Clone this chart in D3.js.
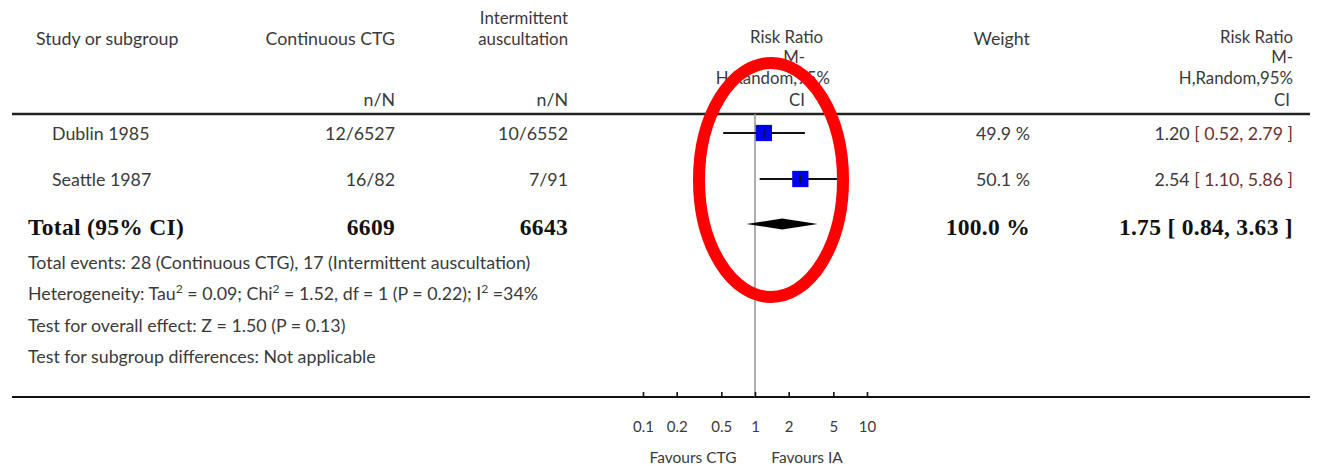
<!DOCTYPE html>
<html>
<head>
<meta charset="utf-8">
<script src="https://cdn.jsdelivr.net/npm/d3@7"></script>
<style>
  html, body { margin: 0; padding: 0; background: #fff; }
  svg { display: block; }
  .t { font-family: Lato, "Open Sans", sans-serif; font-size: 17.8px; fill: #3a3a3a; }
  .h { font-size: 16.8px; }
  .b { font-family: "Liberation Serif", "Times New Roman", serif; font-size: 23.5px; font-weight: bold; fill: #111; letter-spacing: 0.3px; }
</style>
</head>
<body>
<svg id="plot" width="1324" height="465"></svg>
<script>
// Study rows
const studies    = ["Dublin 1985", "Seattle 1987"];
const ctgCounts  = ["12/6527", "16/82"];
const iaCounts   = ["10/6552", "7/91"];
const rr         = [1.20, 2.54];
const rrLow      = [0.52, 1.10];
const rrHigh     = [2.79, 5.86];
const weights    = [49.9, 50.1];

// Pooled estimate
const totalLabel = "Total (95% CI)";
const totalCtg   = 6609;
const totalIa    = 6643;
const pooled     = { rr: 1.75, low: 0.84, high: 3.63, weight: 100.0 };

// Footnotes
const footLines = [
  "Total events: 28 (Continuous CTG), 17 (Intermittent auscultation)",
  "HET",
  "Test for overall effect: Z = 1.50 (P = 0.13)",
  "Test for subgroup differences: Not applicable"
];

// Axis
const tickValues = [0.1, 0.2, 0.5, 1, 2, 5, 10];
const tickLabels = ["0.1", "0.2", "0.5", "1", "2", "5", "10"];
const favours    = ["Favours CTG", "Favours IA"];

const svg = d3.select("#plot");
const x = d3.scaleLog().domain([0.1, 10]).range([643, 867]);
const size = d3.scaleSqrt().domain([0, 100]).range([0, 23]);
const rowY = [133, 179];
const totalY = 224;

const fmt2 = d3.format(".2f");
const fmtW = d3.format(".1f");

// Column positions
const colName = 52, colCtg = 395, colIa = 568, colW = 1030, colRR = 1293;

function txt(xp, yp, s, anchor, cls) {
  return svg.append("text").attr("class", cls || "t")
    .attr("x", xp).attr("y", yp).attr("text-anchor", anchor || "start").text(s);
}

// Header
txt(36, 45, "Study or subgroup");
txt(colCtg, 45, "Continuous CTG", "end");
txt(colIa, 24, "Intermittent", "end", "t h");
txt(colIa, 45, "auscultation", "end", "t h");
txt(colCtg, 106, "n/N", "end");
txt(colIa, 106, "n/N", "end");
txt(823, 43, "Risk Ratio", "end", "t h");
txt(805, 63, "M-", "end", "t h");
txt(830, 84, "H,Random,95%", "end", "t h");
txt(805, 106, "CI", "end", "t h");
txt(colW, 45, "Weight", "end");
txt(colRR, 43, "Risk Ratio", "end", "t h");
txt(colRR, 63, "M-", "end", "t h");
txt(colRR, 84, "H,Random,95%", "end", "t h");
txt(colRR - 3, 106, "CI", "end", "t h");

// Rules
svg.append("line").attr("x1", 12).attr("x2", 1310).attr("y1", 114).attr("y2", 114)
  .attr("stroke", "#222").attr("stroke-width", 2.5);
svg.append("line").attr("x1", 12).attr("x2", 1310).attr("y1", 397).attr("y2", 397)
  .attr("stroke", "#111").attr("stroke-width", 2);

// Line of no effect
svg.append("line").attr("x1", x(1)).attr("x2", x(1)).attr("y1", 114).attr("y2", 397)
  .attr("stroke", "#9a9a9a").attr("stroke-width", 1.6);

// Study rows
studies.forEach((s, i) => {
  const y = rowY[i];
  txt(colName, y + 7, s);
  txt(colCtg, y + 7, ctgCounts[i], "end");
  txt(colIa, y + 7, iaCounts[i], "end");
  txt(colW, y + 7, fmtW(weights[i]) + " %", "end");
  const g = svg.append("text").attr("class", "t").attr("x", colRR).attr("y", y + 7).attr("text-anchor", "end");
  g.append("tspan").text(fmt2(rr[i]) + " ");
  g.append("tspan").attr("fill", "#6b3030").text("[ " + fmt2(rrLow[i]) + ", " + fmt2(rrHigh[i]) + " ]");

  svg.append("line").attr("x1", x(rrLow[i])).attr("x2", x(rrHigh[i]))
    .attr("y1", y).attr("y2", y).attr("stroke", "#111").attr("stroke-width", 2);
  const s2 = size(weights[i]);
  svg.append("rect").attr("x", x(rr[i]) - s2 / 2).attr("y", y - s2 / 2)
    .attr("width", s2).attr("height", s2).attr("fill", "#0000ee");
  svg.append("line").attr("x1", x(rr[i])).attr("x2", x(rr[i]))
    .attr("y1", y - 4).attr("y2", y + 4).attr("stroke", "#111").attr("stroke-width", 1.5);
});

// Total row
txt(28, totalY + 11, totalLabel, "start", "b");
txt(colCtg, totalY + 11, totalCtg, "end", "b");
txt(colIa, totalY + 11, totalIa, "end", "b");
txt(colW, totalY + 11, fmtW(pooled.weight) + " %", "end", "b");
txt(colRR, totalY + 11, fmt2(pooled.rr) + " [ " + fmt2(pooled.low) + ", " + fmt2(pooled.high) + " ]", "end", "b");

svg.append("path")
  .attr("d", d3.line()([
    [x(pooled.low), totalY], [x(pooled.rr), totalY - 5.5],
    [x(pooled.high), totalY], [x(pooled.rr), totalY + 5.5]
  ]) + "Z")
  .attr("fill", "#000")
  .style("filter", "blur(0.6px)");

// Footnotes
const footY = [269, 300, 332, 363];
footLines.forEach((s, i) => {
  const t = svg.append("text").attr("class", "t").attr("x", 28).attr("y", footY[i]);
  if (s === "HET") {
    t.append("tspan").text("Heterogeneity: Tau");
    t.append("tspan").attr("dy", -7).attr("font-size", 12).text("2");
    t.append("tspan").attr("dy", 7).text(" = 0.09; Chi");
    t.append("tspan").attr("dy", -7).attr("font-size", 12).text("2");
    t.append("tspan").attr("dy", 7).text(" = 1.52, df = 1 (P = 0.22); I");
    t.append("tspan").attr("dy", -7).attr("font-size", 12).text("2");
    t.append("tspan").attr("dy", 7).text(" =34%");
  } else {
    t.text(s);
  }
});

// Axis
const axis = d3.axisBottom(x)
  .tickValues(tickValues)
  .tickFormat((d, i) => tickLabels[i])
  .tickSizeInner(-5).tickSizeOuter(0).tickPadding(24);
const ag = svg.append("g").attr("transform", "translate(0,397)").call(axis);
ag.select(".domain").remove();
ag.selectAll(".tick line").attr("stroke", "#111").attr("stroke-width", 1.6);
ag.selectAll(".tick text").attr("class", "t").style("font-size", "15px").attr("fill", "#4a3a4a");

txt(693, 463, favours[0], "middle").style("font-size", "15.5px");
txt(807, 463, favours[1], "middle").style("font-size", "15.5px");

// Highlight ring around the plot column
svg.append("ellipse")
  .attr("cx", 771).attr("cy", 180).attr("rx", 72).attr("ry", 117)
  .attr("fill", "none").attr("stroke", "#ff0000").attr("stroke-width", 12);
</script>
</body>
</html>
